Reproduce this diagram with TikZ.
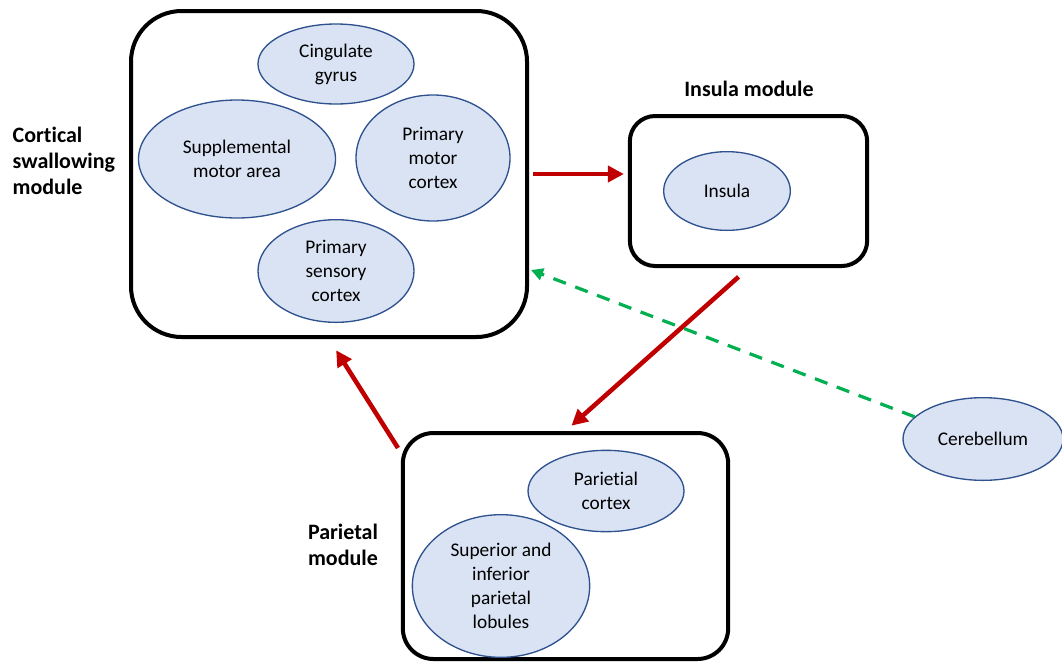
\documentclass[tikz,border=0pt]{standalone}
\usepackage{fontspec}
\setmainfont[Ligatures=NoCommon]{Carlito}
\usetikzlibrary{arrows.meta,shapes.geometric}
\definecolor{areafill}{HTML}{DAE3F3}
\definecolor{arealine}{HTML}{2F528F}
\definecolor{linkred}{HTML}{C00000}
\definecolor{cerebgreen}{HTML}{00B050}

\begin{document}
\begin{tikzpicture}[x=0.75pt,y=-0.75pt,
  module/.style={draw,line width=3pt,rounded corners=#1,inner sep=0pt},
  area/.style={ellipse,draw=arealine,fill=areafill,line width=1pt,inner sep=0pt,
    align=center,font=\fontsize{14.5}{18}\selectfont},
  title/.style={font=\fontsize{16.5}{19.5}\selectfont\bfseries},
  redlink/.style={draw=linkred,line width=3.4pt,-{Triangle[length=12pt,width=12pt]}},
  greenlink/.style={draw=cerebgreen,line width=2.4pt,dash pattern=on 10pt off 7.5pt,
    -{Triangle[length=9pt,width=9pt]}}]
\useasboundingbox (0,0) rectangle (1062,661);
\node[module=38pt,minimum width=297pt,minimum height=244.5pt] (cort) at (329,174) {};
\node[module=19pt,minimum width=178pt,minimum height=112.5pt] (ins) at (748.5,191) {};
\node[module=23pt,minimum width=244pt,minimum height=169.5pt] (par) at (565.5,546) {};
\node[area,minimum width=117pt,minimum height=60pt] (cing) at (336,64) {Cingulate\\gyrus};
\node[area,minimum width=147.75pt,minimum height=88.5pt] (sma) at (237,159) {Supplemental\\motor area};
\node[area,minimum width=115.5pt,minimum height=94.5pt] (pmc) at (433,158) {Primary\\motor\\cortex};
\node[area,minimum width=117pt,minimum height=77pt] (psc) at (336,271) {Primary\\sensory\\cortex};
\node[area,minimum width=95pt,minimum height=59pt] (insula) at (727,191) {Insula};
\node[area,minimum width=117pt,minimum height=61pt] (pctx) at (606,491) {Parietial\\cortex};
\node[area,minimum width=133pt,minimum height=107pt] (spl) at (501,586) {Superior and\\inferior\\parietal\\lobules};
\node[area,minimum width=120pt,minimum height=62pt] (cer) at (983,439) {Cerebellum};
\node[title,align=left,anchor=west] (cortlab) at (8,161) {Cortical\\swallowing\\module};
\node[title] (inslab) at (749,89) {Insula module};
\node[title,align=center] (parlab) at (343,545) {Parietal\\module};
\coordinate (cortin) at (531,270);
\coordinate (parout) at (398,448);
\draw[redlink,shorten <=3pt,shorten >=3pt] (cort.east) -- (cort.east -| ins.west);
\draw[redlink,shorten <=10pt,shorten >=6pt] (ins.south) -- (par.north);
\draw[redlink,shorten >=10pt] (parout) -- (cort.south);
\draw[greenlink] (cer.162) -- (cortin);
\end{tikzpicture}
\end{document}
